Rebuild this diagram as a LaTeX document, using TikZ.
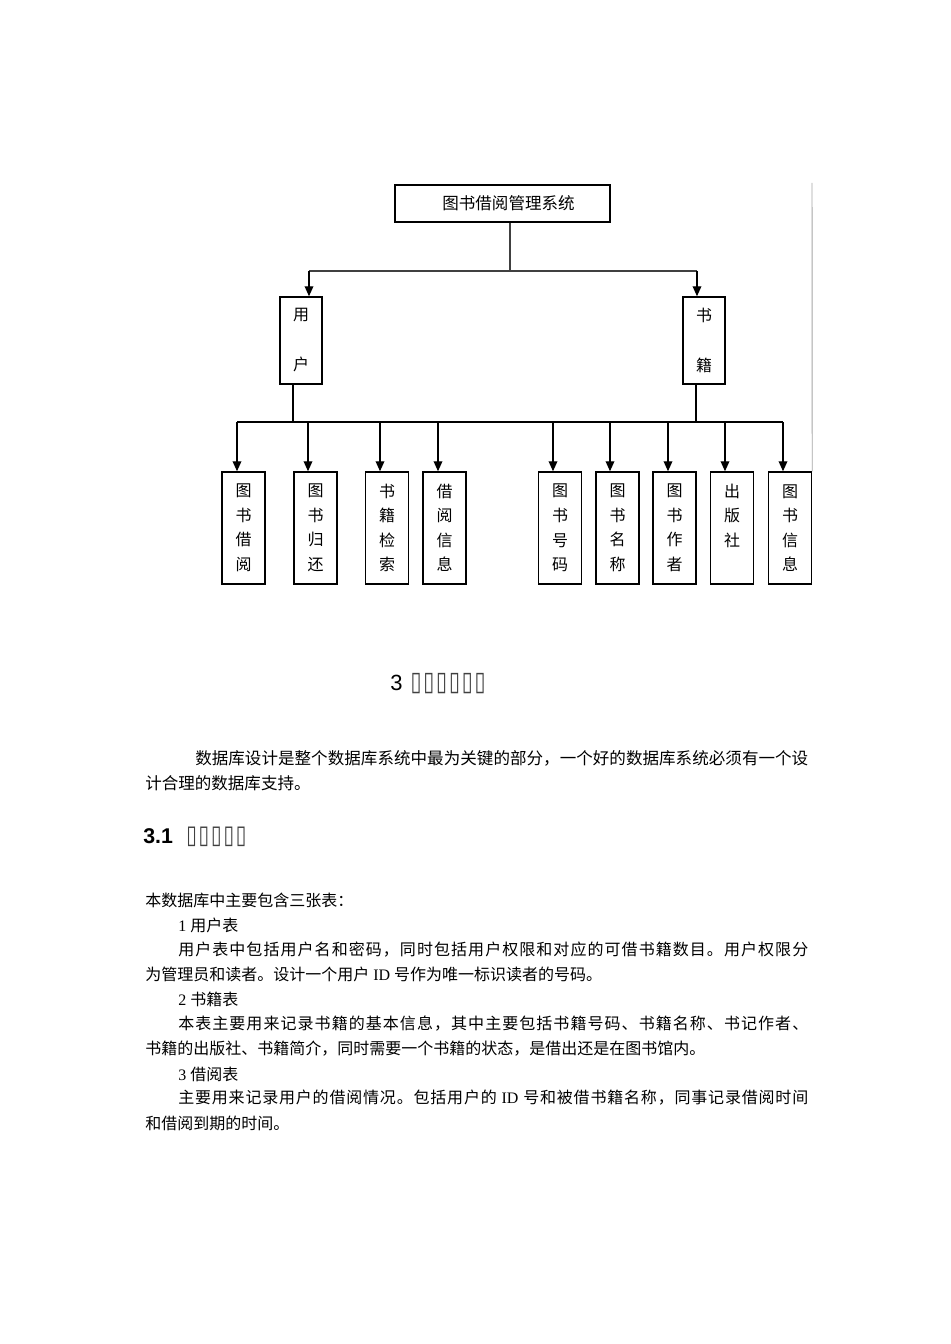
\documentclass[tikz,border=0pt]{standalone}
\usepackage{fontspec}
\usepackage{graphicx}
\setmainfont{Liberation Serif}
\newfontfamily\cjk{Noto Sans CJK SC}
\newfontfamily\arial{Liberation Sans}
\newfontfamily\djv{DejaVu Sans}
\usetikzlibrary{arrows.meta}
\makeatletter
\newcommand\spreadline[2]{\hbox to #1{\@tfor\sp@tok:=#2\do{{\sp@tok}\hskip 0pt plus 1fil}\unskip}}
\makeatother
\tikzset{
  topbox/.style={draw, line width=1.1pt, minimum width=161.25pt, minimum height=27.75pt, inner sep=0pt, font=\cjk\fontsize{12.4}{14}\selectfont},
  midbox/.style={draw, line width=1.1pt, minimum width=31.5pt, minimum height=65.25pt, inner sep=0pt, align=center, font=\cjk\fontsize{12}{37.5}\selectfont},
  leafbox/.style={draw, line width=1.1pt, minimum width=32.25pt, minimum height=84pt, inner sep=0pt, align=center, font=\cjk\fontsize{12}{18.4}\selectfont},
  conn/.style={line width=1pt},
  arr/.style={line width=1pt, -{Triangle[length=7.5pt,width=6.5pt]}},
  body/.style={anchor=west, inner sep=0pt, font=\cjk\fontsize{12}{14}\selectfont},
  bodyA/.style={anchor=west, inner sep=0pt, font=\cjk\fontsize{12.4}{15}\selectfont},
  tofu/.style={anchor=base west, inner sep=0pt}
}
\newcommand\tofuglyph{\textcolor{black!75}{\scalebox{1.15}[1.54]{▯}}\kern1.4pt}
\begin{document}
\begin{tikzpicture}[x=0.75pt,y=-0.75pt]
\fill[white] (0,0) rectangle (950,1344);
\useasboundingbox (0,0) rectangle (950,1344);

% top level
\node[topbox] (sys) at (502.5,203.5) {\hspace*{9pt}图书借阅管理系统};
\node[midbox] (user) at (301,340.5) {用\\户};
\node[midbox] (book) at (704,340.5) {书\\籍};

\coordinate (j0) at (510,271);
\coordinate (ju) at (309,271);
\coordinate (jb) at (697,271);
\draw[conn, black!75] (sys.south -| j0) -- (j0);
\draw[conn, black!75] (ju) -- (jb);
\draw[arr] (ju) -- (ju |- user.north);
\draw[arr] (jb) -- (jb |- book.north);

% leaves
\node[leafbox] (b1) at (243.5,528) {图\\书\\借\\阅};
\node[leafbox] (b2) at (315.5,528) {图\\书\\归\\还};
\node[leafbox] (b3) at (387,528) {书\\籍\\检\\索};
\node[leafbox] (b4) at (444.5,528) {借\\阅\\信\\息};
\node[leafbox] (b5) at (560,528) {图\\书\\号\\码};
\node[leafbox] (b6) at (617.5,528) {图\\书\\名\\称};
\node[leafbox] (b7) at (674.5,528) {图\\书\\作\\者};
\node[leafbox] (b8) at (732,528) {出\\版\\社\\\phantom{图}};
\node[leafbox] (b9) at (790,528) {图\\书\\信\\息};

\coordinate (ku) at (293,422);
\coordinate (kb) at (696,422);
\draw[conn] (user.south -| ku) -- (ku);
\draw[conn] (book.south -| kb) -- (kb);

\coordinate (t1) at (237,422);
\coordinate (t2) at (308,422);
\coordinate (t3) at (380,422);
\coordinate (t4) at (438,422);
\coordinate (t5) at (553,422);
\coordinate (t6) at (610,422);
\coordinate (t7) at (668,422);
\coordinate (t8) at (725,422);
\coordinate (t9) at (783,422);
\draw[conn] (t1) -- (t9);
\foreach \i in {1,...,9} {
  \draw[arr] (t\i) -- (t\i |- b\i.north);
}
\draw[black!35, line width=0.7pt] (812,183) -- (b9.north east);

% headings
\node[tofu] (h3) at (390,690) {\arial\fontsize{16.5}{18}\selectfont 3\hspace{6pt}\djv\fontsize{13}{15}\selectfont\tofuglyph\tofuglyph\tofuglyph\tofuglyph\tofuglyph\tofuglyph};
\node[tofu] (h31) at (143,843) {\arial\bfseries\fontsize{16}{18}\selectfont 3.1\hspace{10pt}\djv\mdseries\fontsize{12.5}{15}\selectfont\tofuglyph\tofuglyph\tofuglyph\tofuglyph\tofuglyph};

% body text
\node[bodyA] (p1a) at (195,758) {\spreadline{459.75pt}{数据库设计是整个数据库系统中最为关键的部分，一个好的数据库系统必须有一个设}};
\node[bodyA] (p1b) at (145,783) {计合理的数据库支持。};

\node[body] (l1) at (145,900) {本数据库中主要包含三张表：};
\node[body] (l2) at (178,925) {{\rmfamily 1 }用户表};
\node[body] (l3) at (178,950) {\spreadline{472.5pt}{用户表中包括用户名和密码，同时包括用户权限和对应的可借书籍数目。用户权限分}};
\node[body] (l4) at (145,974) {为管理员和读者。设计一个用户{\rmfamily\ ID }号作为唯一标识读者的号码。};
\node[body] (l5) at (178,999) {{\rmfamily 2 }书籍表};
\node[body] (l6) at (178,1024) {\spreadline{472.5pt}{本表主要用来记录书籍的基本信息，其中主要包括书籍号码、书籍名称、书记作者、}};
\node[body] (l7) at (145,1049) {书籍的出版社、书籍简介，同时需要一个书籍的状态，是借出还是在图书馆内。};
\node[body] (l8) at (178,1074) {{\rmfamily 3 }借阅表};
\node[body] (l9) at (178,1098) {\spreadline{472.5pt}{主要用来记录用户的借阅情况。包括用户的{\rmfamily\ ID\ }号和被借书籍名称，同事记录借阅时间}};
\node[body] (l10) at (145,1123) {和借阅到期的时间。};
\end{tikzpicture}
\end{document}
